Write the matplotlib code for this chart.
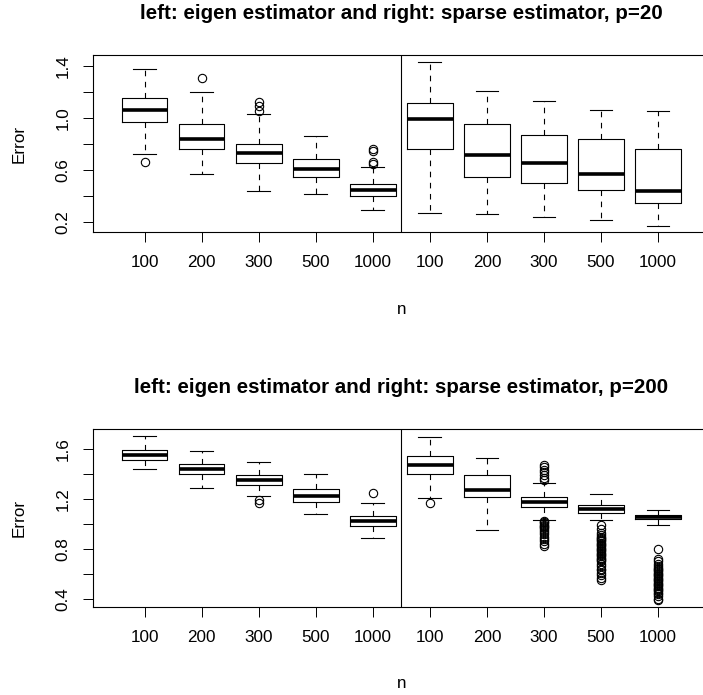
import numpy as np
import matplotlib
matplotlib.use("Agg")
import matplotlib.pyplot as plt

plt.rcParams['font.family'] = ['Liberation Sans', 'DejaVu Sans']

n_labels = ["100", "200", "300", "500", "1000"]

# p = 20, eigen estimator
p20_eigen_lo = [0.726, 0.568, 0.440, 0.417, 0.294]
p20_eigen_q1 = [0.969, 0.759, 0.652, 0.545, 0.402]
p20_eigen_med = [1.060, 0.841, 0.729, 0.609, 0.445]
p20_eigen_q3 = [1.155, 0.951, 0.802, 0.683, 0.491]
p20_eigen_hi = [1.377, 1.201, 1.027, 0.864, 0.624]
p20_eigen_out = [[0.660], [1.308], [1.122, 1.093, 1.053], [], [0.759, 0.746, 0.662, 0.647]]

# p = 20, sparse estimator
p20_sparse_lo = [0.269, 0.261, 0.243, 0.215, 0.172]
p20_sparse_q1 = [0.762, 0.547, 0.501, 0.445, 0.346]
p20_sparse_med = [0.992, 0.713, 0.654, 0.570, 0.442]
p20_sparse_q3 = [1.117, 0.956, 0.867, 0.836, 0.759]
p20_sparse_hi = [1.428, 1.209, 1.132, 1.058, 1.055]
p20_sparse_out = [[], [], [], [], []]

# p = 200, eigen estimator
p200_eigen_lo = [1.444, 1.292, 1.222, 1.078, 0.890]
p200_eigen_q1 = [1.512, 1.404, 1.316, 1.174, 0.987]
p200_eigen_med = [1.554, 1.444, 1.351, 1.227, 1.024]
p200_eigen_q3 = [1.594, 1.484, 1.391, 1.279, 1.064]
p200_eigen_hi = [1.707, 1.584, 1.495, 1.399, 1.169]
p200_eigen_out = [[], [], [1.193, 1.171], [], [1.247]]

# p = 200, sparse estimator
p200_sparse_lo = [1.209, 0.954, 1.030, 1.032, 0.994]
p200_sparse_q1 = [1.399, 1.214, 1.139, 1.088, 1.038]
p200_sparse_med = [1.476, 1.273, 1.179, 1.120, 1.056]
p200_sparse_q3 = [1.546, 1.391, 1.219, 1.155, 1.072]
p200_sparse_hi = [1.701, 1.533, 1.332, 1.241, 1.115]
p200_sparse_out = [
    [1.166],
    [],
    [1.472, 1.455, 1.437, 1.415, 1.392, 1.370, 1.353,
     1.025, 1.015, 1.005, 0.995, 0.985, 0.975, 0.965, 0.950, 0.935,
     0.920, 0.900, 0.880, 0.860, 0.840, 0.820],
    [0.99, 0.96, 0.93, 0.91, 0.90, 0.89, 0.88, 0.87, 0.86, 0.85, 0.84,
     0.83, 0.82, 0.81, 0.80, 0.79, 0.78, 0.77, 0.76, 0.75, 0.74, 0.73,
     0.72, 0.71, 0.70, 0.68, 0.66, 0.64, 0.63, 0.61, 0.59, 0.57, 0.55],
    [0.80, 0.72, 0.70, 0.68, 0.66, 0.65, 0.64, 0.63, 0.62, 0.61, 0.60,
     0.59, 0.58, 0.57, 0.56, 0.55, 0.54, 0.53, 0.52, 0.51, 0.50, 0.49,
     0.48, 0.47, 0.46, 0.45, 0.44, 0.42, 0.40, 0.39],
]


def make_stats(lo, q1, med, q3, hi, out):
    return [dict(whislo=lo[i], q1=q1[i], med=med[i], q3=q3[i], whishi=hi[i],
                 fliers=out[i]) for i in range(len(med))]


def draw_panel(ax, title, stats, ylim, yticks, ylabels):
    pos = np.arange(1, len(stats) + 1)
    ax.bxp(stats, positions=pos, widths=0.8, capwidths=0.4, showfliers=True,
           boxprops=dict(color="black", linewidth=0.8),
           whiskerprops=dict(color="black", linewidth=0.8, linestyle=(0, (5, 5))),
           capprops=dict(color="black", linewidth=0.8),
           medianprops=dict(color="black", linewidth=2.6, solid_capstyle="butt"),
           flierprops=dict(marker="o", markerfacecolor="none", markeredgecolor="black",
                           markersize=6, markeredgewidth=0.8, linestyle="none"))
    ax.axvline(5.5, color="black", linewidth=0.8)
    ax.set_xlim(0.1, 10.9)
    ax.set_ylim(*ylim)
    ax.set_xticks(pos, labels=n_labels * 2)
    ax.set_yticks(yticks, labels=ylabels)
    ax.tick_params(direction="out", length=7.2, width=0.7, labelsize=12.3, pad=9.5)
    ax.tick_params(axis="y", labelrotation=90, pad=9)
    for lab in ax.get_yticklabels():
        lab.set_va("center")
    for sp in ax.spines.values():
        sp.set_linewidth(0.8)
    ax.set_xlabel("n", fontsize=12.3)
    ax.xaxis.set_label_coords(0.5, -77 / 177)
    ax.xaxis.label.set_va("center")
    ax.set_ylabel("Error", fontsize=12.3)
    ax.yaxis.set_label_coords(-74 / 616, 0.5)
    ax.yaxis.label.set_va("center")
    ax.text(0.5, 1 + 42 / 177, title, transform=ax.transAxes, ha="center", va="center",
            fontsize=14.8, fontweight="bold")


fig = plt.figure(figsize=(7.03, 6.95), dpi=100)
ax1 = fig.add_axes([0.1327, 0.6658, 0.8764, 0.2547])
ax2 = fig.add_axes([0.1327, 0.1270, 0.8764, 0.2553])

top_stats = (make_stats(p20_eigen_lo, p20_eigen_q1, p20_eigen_med, p20_eigen_q3,
                        p20_eigen_hi, p20_eigen_out)
             + make_stats(p20_sparse_lo, p20_sparse_q1, p20_sparse_med, p20_sparse_q3,
                          p20_sparse_hi, p20_sparse_out))
bottom_stats = (make_stats(p200_eigen_lo, p200_eigen_q1, p200_eigen_med, p200_eigen_q3,
                           p200_eigen_hi, p200_eigen_out)
                + make_stats(p200_sparse_lo, p200_sparse_q1, p200_sparse_med,
                             p200_sparse_q3, p200_sparse_hi, p200_sparse_out))

draw_panel(ax1, "left: eigen estimator and right: sparse estimator, p=20", top_stats,
           (0.123, 1.48), np.arange(0.2, 1.41, 0.2),
           ["0.2", "", "0.6", "", "1.0", "", "1.4"])
draw_panel(ax2, "left: eigen estimator and right: sparse estimator, p=200", bottom_stats,
           (0.336, 1.761), np.arange(0.4, 1.61, 0.2),
           ["0.4", "", "0.8", "", "1.2", "", "1.6"])

fig.savefig("out.png", dpi=100)
